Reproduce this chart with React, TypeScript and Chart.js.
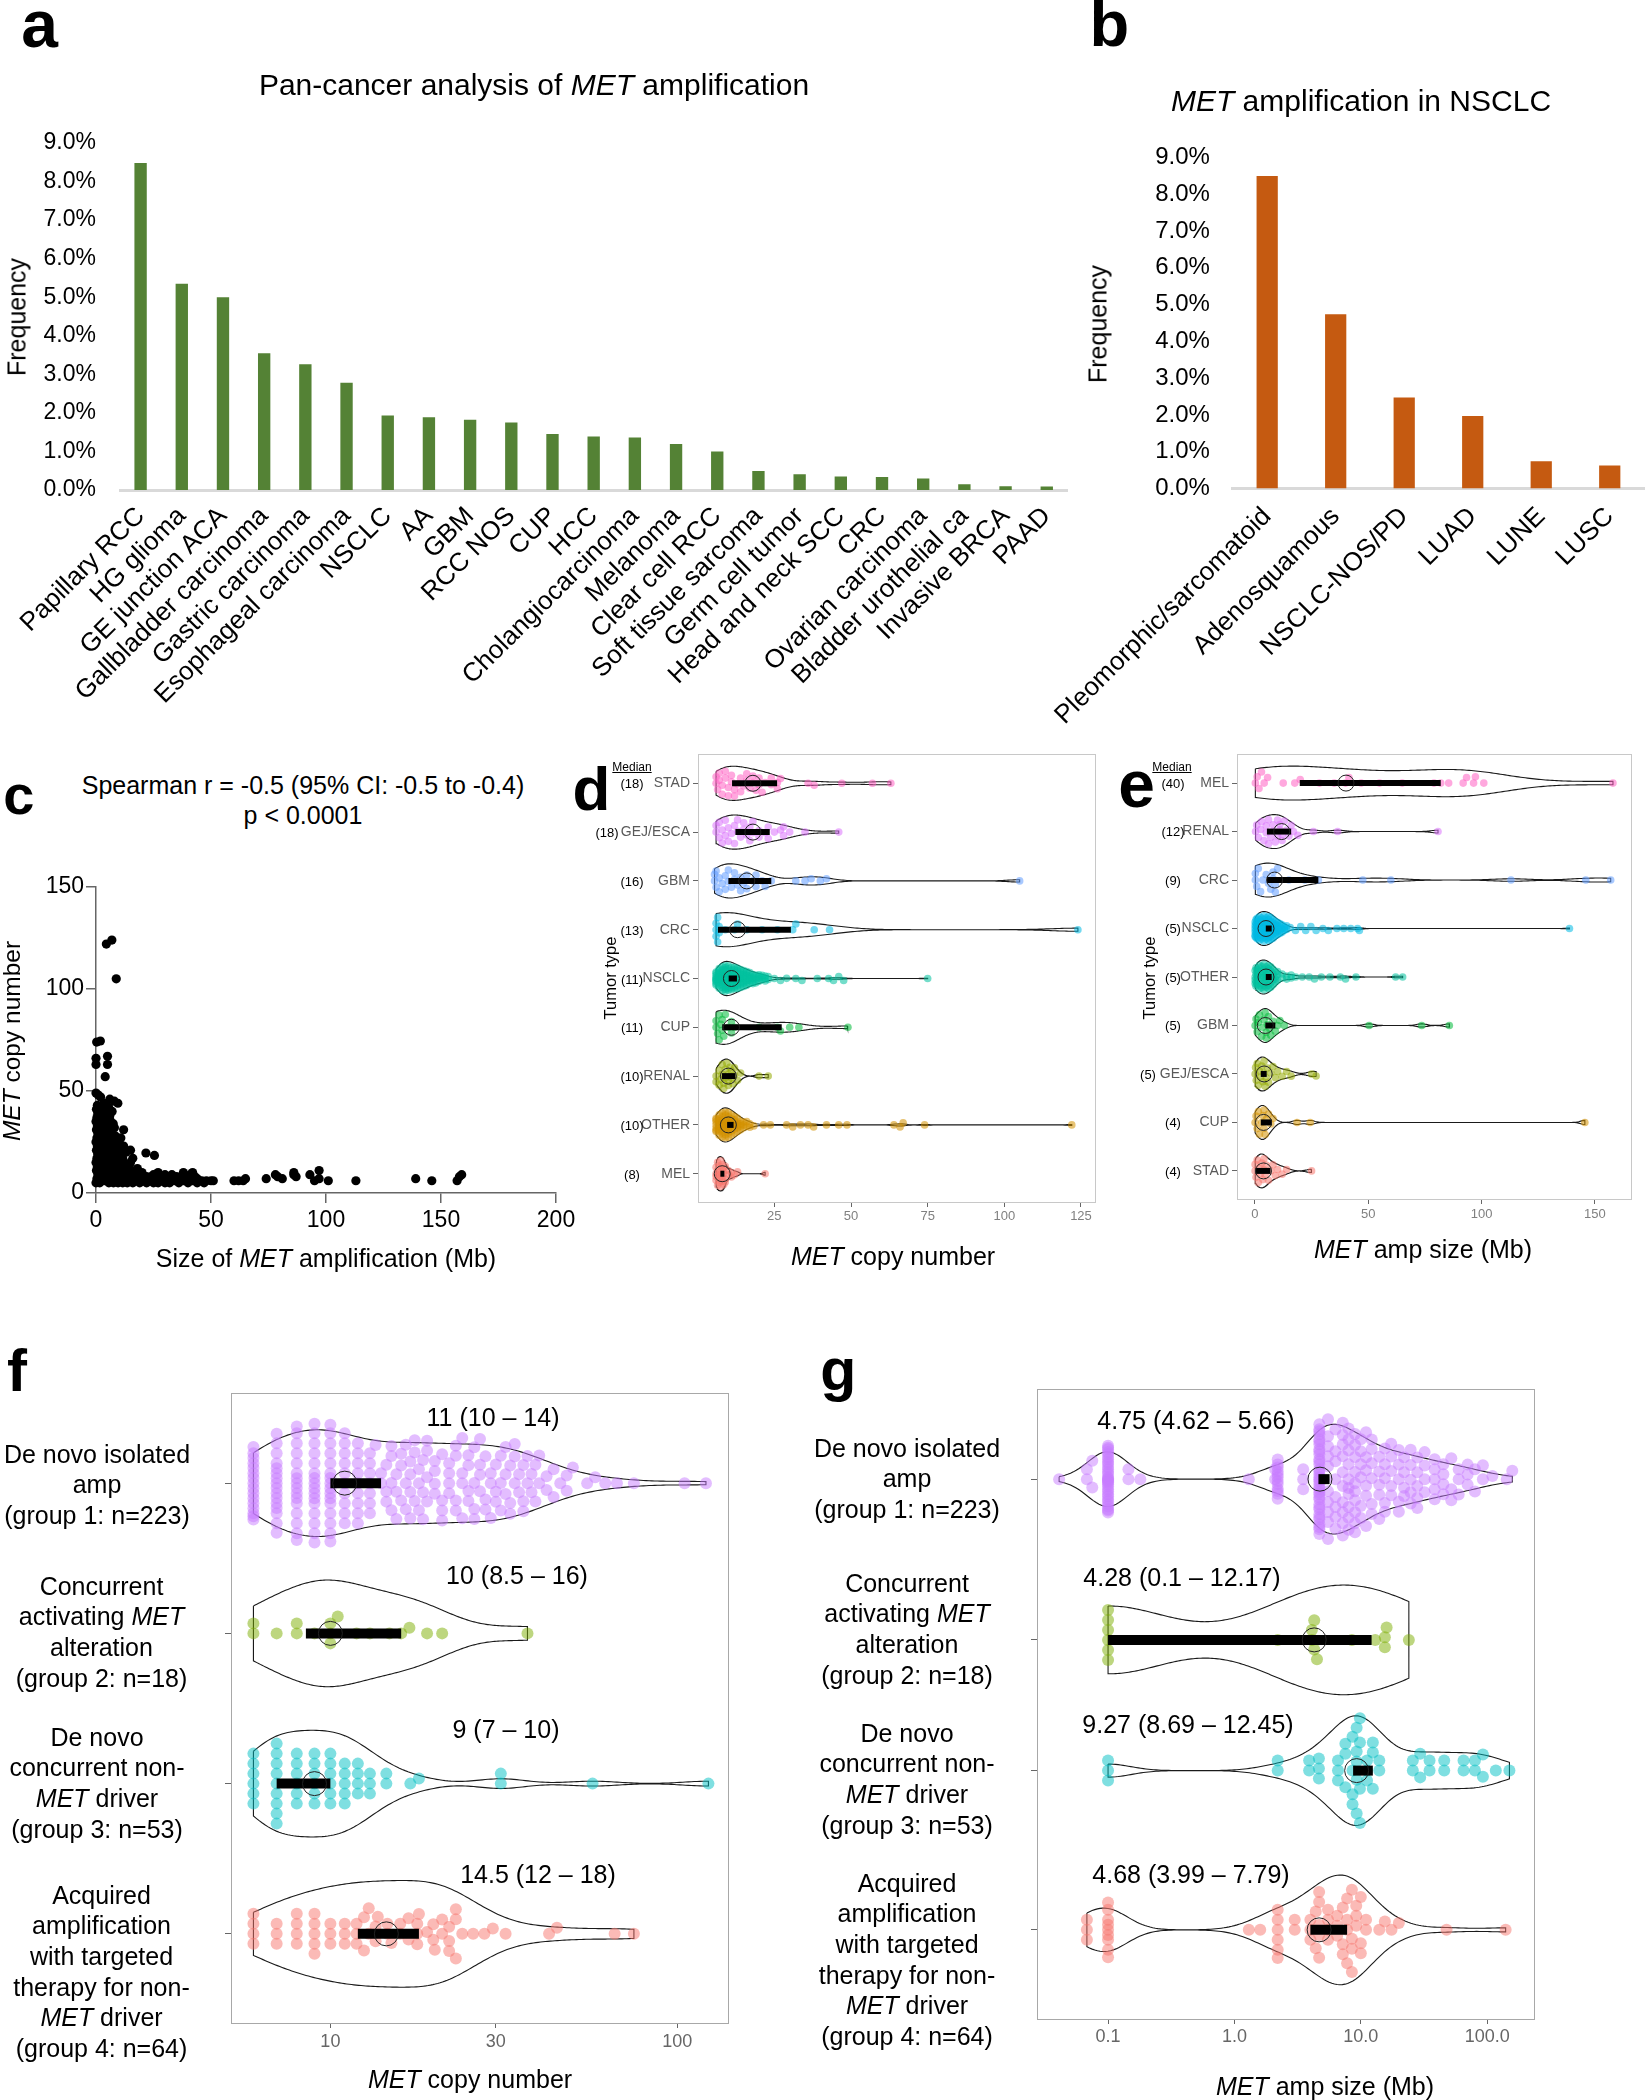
import React, { useEffect, useRef } from 'react';
import { Chart, registerables } from 'chart.js';

Chart.register(...registerables);

const FONT = "'Liberation Sans', Arial, Helvetica, sans-serif";
Chart.defaults.font.family = FONT;
Chart.defaults.color = '#000';

// ================= DATA =================
// Panel a
const aCategories = ['Papillary RCC', 'HG glioma', 'GE junction ACA', 'Gallbladder carcinoma', 'Gastric carcinoma',
  'Esophageal carcinoma', 'NSCLC', 'AA', 'GBM', 'RCC NOS', 'CUP', 'HCC', 'Cholangiocarcinoma', 'Melanoma',
  'Clear cell RCC', 'Soft tissue sarcoma', 'Germ cell tumor', 'Head and neck SCC', 'CRC', 'Ovarian carcinoma',
  'Bladder urothelial ca', 'Invasive BRCA', 'PAAD'];
const aFrequency = [8.48, 5.35, 5.0, 3.55, 3.26, 2.78, 1.93, 1.89, 1.82, 1.75, 1.45, 1.39, 1.36, 1.19, 1.0,
  0.49, 0.41, 0.35, 0.34, 0.30, 0.15, 0.10, 0.09];
// Panel b
const bCategories = ['Pleomorphic/sarcomatoid', 'Adenosquamous', 'NSCLC-NOS/PD', 'LUAD', 'LUNE', 'LUSC'];
const bFrequency = [8.5, 4.74, 2.47, 1.97, 0.74, 0.62];
const freqTicks = [0, 1, 2, 3, 4, 5, 6, 7, 8, 9];

// Panel c : [size Mb, copy number]
type Pair = [number, number];
const cPairs: Pair[] = [
  [4.5, 122], [6.9, 124], [8.8, 105], [0.3, 74], [1.9, 74.5], [0, 66], [0, 63], [5, 67], [5, 63], [4, 57],
  [0, 49], [1, 48], [2, 47], [6, 46], [8, 45], [9.5, 44], [7, 40], [6, 36], [8, 32], [12, 31], [10, 24], [12, 23],
  [15, 21], [16, 17], [21.7, 19.6], [25.4, 18.4],
  [0, 5], [0.4, 7], [0.8, 9], [0.2, 11], [0.6, 13], [0, 15], [0.4, 17], [0.8, 19], [0.2, 21], [0.6, 23], [0, 25],
  [0.4, 27], [0.8, 29], [0.2, 31], [0.6, 33], [0, 35], [0.4, 37], [0.8, 39], [0.2, 41], [0.6, 43],
  [1.6, 5], [2.2, 7], [2.8, 9], [1.8, 11], [2.4, 13], [3, 15], [1.6, 17], [2.2, 19], [2.8, 21], [1.8, 23], [2.4, 25],
  [3, 27], [1.6, 29], [2.2, 31], [2.8, 33], [1.8, 35], [2.4, 37], [3, 39], [2, 42],
  [3.6, 6], [4.2, 8], [4.8, 10], [3.8, 12], [4.4, 14], [5, 16], [3.6, 18], [4.2, 20], [4.8, 22], [3.8, 24], [4.4, 26],
  [5, 28], [3.6, 30], [4.2, 32], [4.8, 34], [4, 37], [4.6, 40], [3.5, 44],
  [5.6, 5], [6.2, 7], [6.8, 9], [5.8, 11], [6.4, 13], [7, 15], [5.6, 17], [6.2, 19], [6.8, 21], [5.8, 23], [6.4, 25],
  [7, 27], [5.8, 30], [6.4, 33], [6.0, 38], [5.5, 42],
  [7.6, 5], [8.2, 7], [8.8, 9], [7.8, 11], [8.4, 13], [9, 15], [7.6, 17], [8.2, 20], [8.8, 22], [7.8, 25], [8.4, 28], [7.5, 34],
  [9.6, 5], [10.2, 7], [10.8, 9], [9.8, 11], [10.4, 13], [11, 15], [9.6, 18], [10.2, 20], [10.8, 27],
  [11.6, 5], [12.2, 6], [12.8, 8], [11.8, 10], [12.4, 12], [13, 14], [11.6, 17], [13, 20],
  [13.6, 5], [14.2, 7], [14.8, 9], [13.8, 11], [14.4, 13], [15, 15],
  [16, 5], [16.5, 7], [17, 6], [18, 8], [19, 5], [20, 6], [21, 7], [22, 5], [23, 6], [24, 8], [25, 5], [26, 7], [27, 5],
  [28, 6], [30, 5], [31, 8], [32, 5], [34, 6], [35, 8], [36, 5], [38, 6], [40, 5], [42, 6], [44, 5], [47, 5],
  [14, 12], [15, 10], [17, 9], [18, 12], [19, 7], [20, 10], [22, 8], [24, 7], [25, 9], [26, 6], [27, 10], [28, 8],
  [29, 6], [30, 9], [31, 7], [32, 6], [33, 9], [34, 7], [35, 6], [37, 8], [38, 10], [39, 7], [40, 6], [41, 9], [42, 10],
  [43, 8], [44, 7], [45, 6], [46, 6], [48, 6], [50, 6], [51, 6],
  [60, 6], [62, 6], [64, 6], [65, 7], [74, 7], [78, 9], [79, 8], [81, 7], [86, 9], [86, 10], [87, 8], [93, 9], [95, 6],
  [97, 7], [97, 11], [101, 6], [113, 6], [139, 7], [146, 6], [157, 6], [158, 8], [159, 9],
];
const cXTicks = [0, 50, 100, 150, 200];
const cYTicks = [0, 50, 100, 150];

// Panel d : MET copy number by tumor type ([value, count])
const dTypes = ['STAD', 'GEJ/ESCA', 'GBM', 'CRC', 'NSCLC', 'CUP', 'RENAL', 'OTHER', 'MEL'];
const dMedians = [18, 18, 16, 13, 11, 11, 10, 10, 8];
const dQ1 = [11.2, 12.3, 10, 6.6, 10.1, 8, 7.9, 9.6, 7.4];
const dQ3 = [25.9, 23.5, 24, 30.4, 12.8, 27.4, 12.3, 11.7, 8.7];
const dSTAD: Pair[] = [[6, 2], [6.5, 1], [7, 2], [8, 2], [9, 2], [10, 2], [11, 2], [12, 2], [13, 1], [14, 2], [15, 1], [16, 2], [17, 1], [18, 2], [19, 1], [20, 2], [21, 1], [22, 1], [24, 2], [26, 2], [27, 1], [36, 1], [38, 1], [47, 1], [57, 1], [63, 1]];
const dGEJ: Pair[] = [[6, 2], [7, 2], [8, 2], [9, 2], [10, 2], [11, 1], [12, 2], [13, 2], [14, 1], [15, 2], [16, 1], [17, 2], [18, 2], [20, 2], [22, 1], [23, 2], [25, 1], [27, 1], [28, 2], [30, 1], [35, 1], [46, 1]];
const dGBM: Pair[] = [[5.5, 2], [6, 2], [7, 2], [8, 1], [9, 2], [10, 2], [11, 1], [12, 2], [13, 1], [14, 2], [15, 1], [16, 2], [18, 1], [19, 2], [21, 1], [22, 1], [24, 1], [32, 1], [35, 1], [37, 1], [40, 1], [42, 1], [105, 1]];
const dCRC: Pair[] = [[6, 3], [6.5, 2], [7, 2], [9, 1], [12, 1], [13, 1], [16, 1], [21, 1], [26, 1], [31, 1], [32, 1], [38, 1], [43, 1], [124, 1]];
const dNSCLC: Pair[] = [[6, 10], [7, 12], [8, 14], [9, 14], [10, 14], [11, 13], [12, 12], [13, 10], [14, 9], [15, 8], [16, 7], [17, 6], [18, 5], [19, 4], [20, 4], [21, 3], [22, 3], [23, 2], [25, 1], [27, 1], [29, 1], [32, 1], [34, 1], [39, 1], [42.7, 1], [44.3, 1], [46, 1], [47.6, 1], [75, 1]];
const dCUP: Pair[] = [[6, 2], [6.5, 1], [7, 2], [7.5, 1], [8, 2], [8.5, 1], [9, 1], [10, 1], [11, 2], [12, 1], [20, 1], [26, 1], [27, 1], [30, 1], [33, 1], [49, 1]];
const dRENAL: Pair[] = [[6, 2], [7, 2], [7.5, 1], [8, 2], [8.5, 2], [9, 2], [9.5, 1], [10, 3], [10.5, 1], [11, 2], [11.5, 1], [12, 2], [13, 1], [14, 1], [20, 1], [23, 1]];
const dOTHER: Pair[] = [[6, 7], [7, 9], [8, 10], [9, 10], [10, 10], [11, 8], [12, 7], [13, 5], [14, 4], [15, 3], [16, 2], [17, 2], [18.3, 1], [21.5, 1], [23.7, 1], [29, 1], [31, 1], [33.5, 1], [36, 1], [37.8, 1], [42, 1], [46, 1], [48.7, 1], [64, 1], [66, 1], [67, 1], [74, 1], [122, 1]];
const dMEL: Pair[] = [[6, 4], [6.5, 3], [7, 4], [7.5, 3], [8, 4], [8.5, 3], [9, 3], [10, 2], [11, 2], [12, 1], [13, 1], [22, 1]];
const dXTicks = [25, 50, 75, 100, 125];

// Panel e : MET amp size (Mb) by tumor type
const eTypes = ['MEL', 'RENAL', 'CRC', 'NSCLC', 'OTHER', 'GBM', 'GEJ/ESCA', 'CUP', 'STAD'];
const eMedianLabels = [40, 12, 9, 5, 5, 5, 5, 4, 4];
const eMedians = [40.2, 11.8, 8.7, 4.9, 4.9, 4.6, 4.1, 3.8, 3.8];
const eQ1 = [19.8, 5.3, 5.3, 4.8, 4.8, 4.6, 2.6, 2.6, 0.3];
const eQ3 = [82, 16, 28, 7.4, 7.4, 9, 5.2, 7.5, 6.9];
const eMEL: Pair[] = [[0.2, 1], [1, 1], [1.8, 1], [2.9, 1], [4.1, 1], [5.6, 1], [12.5, 1], [17.6, 1], [20, 1], [28.5, 1], [35, 1], [40, 1], [41.5, 1], [46.9, 1], [55, 1], [65, 1], [79, 1], [82, 1], [85.5, 1], [91.9, 1], [93.4, 1], [96.5, 1], [97.3, 1], [101, 1], [158, 1]];
const eRENAL: Pair[] = [[0.3, 1], [0.8, 1], [1.5, 1], [2.5, 1], [3, 1], [4, 1], [5, 2], [6, 2], [7, 1], [8, 2], [9, 1], [10, 2], [11, 2], [12, 2], [13, 1], [14, 1], [15, 1], [16, 1], [17, 1], [19, 1], [25.8, 1], [36.5, 1], [80.8, 1]];
const eCRC: Pair[] = [[0.2, 2], [0.8, 1], [1.5, 1], [2.5, 1], [3.5, 1], [5, 1], [6, 1], [7, 1], [8, 2], [9, 2], [10, 1], [15, 1], [22, 1], [28, 1], [47.6, 1], [60, 1], [113, 1], [146, 1], [157, 1]];
const eNSCLC: Pair[] = [[0.1, 6], [0.5, 6], [1, 7], [2, 8], [3, 9], [4, 10], [5, 10], [6, 9], [7, 8], [8, 7], [9, 6], [10, 5], [11, 4], [12, 3], [13, 3], [14, 2], [15.6, 1], [17.9, 1], [20.2, 1], [22.4, 1], [24.7, 1], [27, 1], [30, 1], [32.4, 1], [36.2, 1], [39.2, 1], [42.3, 1], [45.3, 1], [46.1, 1], [138.8, 1]];
const eOTHER: Pair[] = [[0.1, 4], [0.5, 4], [1, 5], [2, 6], [3, 6], [4, 7], [5, 7], [6, 6], [7, 5], [8, 4], [9, 4], [10, 3], [12, 2], [14, 2], [16, 2], [18, 1], [20.9, 1], [24, 1], [26.3, 1], [29.3, 1], [33.1, 1], [37.7, 1], [40, 1], [44.6, 1], [62.1, 1], [65.2, 1]];
const eGBM: Pair[] = [[0.1, 1], [0.5, 1], [1, 1], [1.5, 1], [2, 1], [3, 1], [3.5, 1], [4, 1], [4.5, 1], [5, 2], [5.5, 1], [6, 1], [6.5, 1], [7, 1], [8, 1], [9, 1], [10, 1], [11, 1], [13, 1], [50.4, 1], [73.6, 1], [85.8, 1]];
const eGEJ: Pair[] = [[0.1, 1], [0.3, 1], [0.6, 1], [1, 1], [1.5, 1], [2, 1], [2.5, 1], [3, 1], [3.5, 1], [4, 2], [4.5, 1], [5, 1], [5.5, 1], [6, 1], [7, 1], [8, 1], [9, 1], [10, 1], [12, 1], [14, 1], [16, 1], [25, 1], [27, 1]];
const eCUP: Pair[] = [[0.1, 1], [0.5, 1], [1, 1], [1.5, 1], [2, 1], [3, 1], [3.5, 1], [4, 2], [4.5, 1], [5, 1], [6, 1], [7, 1], [8, 1], [18.6, 1], [24.4, 1], [145.6, 1]];
const eSTAD: Pair[] = [[0.1, 2], [0.5, 1], [1, 1], [1.5, 1], [2, 1], [2.5, 1], [3, 1], [3.5, 1], [4, 2], [4.5, 1], [5, 1], [6, 1], [7, 1], [8, 1], [9, 1], [10, 1], [12, 1], [14, 1], [25, 1]];
const eXTicks = [0, 50, 100, 150];

// Panel f : MET copy number by group
const fMedians = [11, 10, 9, 14.5];
const fQ1 = [10, 8.5, 7, 12];
const fQ3 = [14, 16, 10, 18];
const fG1: Pair[] = [[6, 16], [7, 16], [8, 16], [9, 16], [10, 16], [11, 10], [12, 9], [13, 7],
  [13.5, 1], [14, 2], [14.5, 3], [15, 4], [15.5, 3], [16, 3], [16.5, 3], [17, 4], [17.5, 3], [18, 3], [18.5, 3], [19, 4],
  [20, 4], [21, 4], [22, 4], [23, 4], [24, 4], [25, 4], [26, 4], [27, 4], [28, 3], [29, 3], [30, 3], [31, 3], [32, 3],
  [33, 3], [34, 3], [35, 2], [36, 3], [37, 2], [38, 2], [39, 2], [40, 2], [42, 2], [44, 2], [46, 1], [48, 2], [50, 1],
  [55, 1], [58, 1], [62, 1], [67, 1], [75, 1], [105, 1], [121, 1]];
const fG2: Pair[] = [[6, 2], [7, 1], [8, 2], [9, 1], [10, 3], [10.5, 1], [11.9, 1], [13, 1], [14.8, 1], [16, 1], [16.9, 1], [19, 1], [21, 1], [37, 1]];
const fG3: Pair[] = [[6, 6], [7, 9], [8, 6], [9, 6], [10, 6], [11, 5], [12, 4], [13, 3], [14.5, 2], [17, 1], [18, 1], [31, 2], [57, 1], [123, 1]];
const fG4: Pair[] = [[6, 4], [7, 3], [8, 4], [9, 5], [10, 3], [11, 3], [11.9, 3], [12.5, 2], [12.9, 2], [13.5, 2], [13.7, 1], [14.6, 2], [15, 1], [15.9, 2], [16.8, 2], [17.8, 3], [18, 1], [19, 1], [19.8, 2], [20, 1], [21, 2], [22, 3], [23, 3], [24, 1], [25.8, 1], [27.8, 1], [29.4, 1], [32, 1], [42.7, 1], [45, 1], [66, 1], [75, 1]];
const fXTicks = [10, 30, 100];
const fXTickText = ['10', '30', '100'];

// Panel g : MET amp size (Mb) by group
const gMedians = [4.75, 4.28, 9.27, 4.68];
const gQ1 = [4.62, 0.1, 8.69, 3.99];
const gQ3 = [5.66, 12.17, 12.45, 7.79];
const gG1: Pair[] = [[0.041, 1], [0.068, 2], [0.075, 2], [0.1, 32], [0.145, 2], [0.18, 1], [1.3, 1], [2.1, 2], [2.2, 12], [3.5, 3],
  [4.7, 36], [5.5, 10], [6.3, 8], [7.2, 10], [8, 10], [9, 10], [10, 6], [11, 6], [12.2, 6], [14, 5], [15.5, 5], [17.4, 5],
  [20, 5], [22, 4], [24.8, 5], [28, 5], [32, 4], [38.4, 5], [45, 4], [52, 3], [59.5, 3], [70, 3], [80, 2], [92.5, 2],
  [110, 1], [143, 1], [158, 1]];
const gG2: Pair[] = [[0.1, 6], [2.2, 1], [4.1, 2], [4.28, 2], [4.5, 1], [8.5, 1], [13, 1], [15.5, 2], [16, 1], [24, 1]];
const gG3: Pair[] = [[0.1, 3], [2.2, 2], [3.9, 2], [4.66, 3], [6.6, 3], [7.55, 3], [8.6, 4], [9.27, 5], [9.84, 4], [11.2, 3], [12.45, 3], [14, 2], [25.8, 2], [29.5, 2], [35, 2], [45.7, 2], [65, 2], [80, 2], [92.5, 2], [117, 1], [150, 1]];
const gG4: Pair[] = [[0.068, 3], [0.1, 9], [1.3, 1], [1.6, 1], [2.2, 6], [3, 2], [3.99, 3], [4.4, 2], [4.68, 5], [5.5, 4], [6.5, 3], [7.2, 3], [7.79, 4], [8.5, 4], [9.2, 3], [10, 3], [11, 2], [14, 1], [15.5, 1], [17.5, 1], [20, 1], [47.7, 1], [140, 1]];
const gXTicks = [0.1, 1, 10, 100];
const gXTickText = ['0.1', '1.0', '10.0', '100.0'];

const groupLines = [
  ['De novo isolated', 'amp', '(group 1: n=223)'],
  ['Concurrent', 'activating *MET*', 'alteration', '(group 2: n=18)'],
  ['De novo', 'concurrent non-', '*MET* driver', '(group 3: n=53)'],
  ['Acquired', 'amplification', 'with targeted', 'therapy for non-', '*MET* driver', '(group 4: n=64)'],
];

// ================= STYLE / LAYOUT =================
const HUE9 = ['#FF61C3', '#DB72FB', '#619CFF', '#00B9E3', '#00C19F', '#00BA38', '#93AA00', '#D39200', '#F8766D'];
const HUE4 = ['#C77CFF', '#7CAE00', '#00BFC4', '#F8766D'];

interface Box { cl: number; ct: number; cw: number; ch: number; l: number; t: number; r: number; b: number; }
const yw = (b: Box) => b.l - b.cl;
const xh = (b: Box) => b.ct + b.ch - b.b;
const pad = (b: Box) => ({ left: 0, top: b.t - b.ct, right: b.cl + b.cw - b.r, bottom: 0 });

const aBox: Box = { cl: -60, ct: 100, cw: 1140, ch: 620, l: 120, t: 143, r: 1072, b: 490 };
const bBox: Box = { cl: 1030, ct: 110, cw: 615, ch: 640, l: 1231, t: 157.6, r: 1644, b: 488.4 };
const cBox: Box = { cl: 0, ct: 860, cw: 600, ch: 410, l: 96, t: 887, r: 556, b: 1193 };
const dBox: Box = { cl: 590, ct: 740, cw: 520, ch: 500, l: 698, t: 754, r: 1096, b: 1203 };
const eBox: Box = { cl: 1110, ct: 740, cw: 535, ch: 500, l: 1237, t: 754, r: 1632, b: 1200 };
const fBox: Box = { cl: 190, ct: 1380, cw: 560, ch: 700, l: 231, t: 1393, r: 729, b: 2024 };
const gBox: Box = { cl: 1000, ct: 1375, cw: 645, ch: 705, l: 1037, t: 1389, r: 1535, b: 2020 };
// panel g rows are not evenly spaced in the original (stacked sub-panels)
const gRowPos = [0, 1.07, 1.94, 3.0];

const expand = (pairs: Pair[]) => {
  const out: number[] = [];
  pairs.forEach(([v, c]) => { for (let k = 0; k < c; k++) out.push(v); });
  return out;
};
const rgba = (hex: string, a: number) => {
  const n = parseInt(hex.slice(1), 16);
  return `rgba(${(n >> 16) & 255},${(n >> 8) & 255},${n & 255},${a})`;
};

const framePlugin = (color: string) => ({
  id: 'frame',
  afterDatasetsDraw(chart: any) {
    const { ctx, chartArea: a } = chart;
    ctx.save();
    ctx.strokeStyle = color;
    ctx.lineWidth = 1;
    ctx.strokeRect(Math.round(a.left) + 0.5, Math.round(a.top) + 0.5, Math.round(a.right - a.left) - 1, Math.round(a.bottom - a.top) - 1);
    ctx.restore();
  },
});

// ================= BAR CHARTS =================
function buildBar(canvas: HTMLCanvasElement, box: Box, labels: string[], values: number[], color: string,
  o: { barPct: number; xFont: number; yFont: number; xPad: number; yPad: number }) {
  return new Chart(canvas, {
    type: 'bar',
    data: { labels, datasets: [{ data: values, backgroundColor: color, barPercentage: o.barPct, categoryPercentage: 1 }] },
    options: {
      animation: false, responsive: false, maintainAspectRatio: false, events: [],
      layout: { padding: pad(box) },
      plugins: { legend: { display: false }, tooltip: { enabled: false } },
      scales: {
        x: {
          grid: { display: false, drawTicks: false },
          border: { display: true, color: '#d9d9d9', width: 3 },
          ticks: { autoSkip: false, minRotation: 45, maxRotation: 45, color: '#000', font: { size: o.xFont }, padding: o.xPad },
          afterFit: (s: any) => { s.height = xh(box); },
        },
        y: {
          min: 0, max: 9,
          grid: { display: false, drawTicks: false },
          border: { display: false },
          afterBuildTicks: (s: any) => { s.ticks = freqTicks.map((v) => ({ value: v })); },
          ticks: { color: '#000', font: { size: o.yFont }, padding: o.yPad, callback: (v: any) => Number(v).toFixed(1) + '%' },
          afterFit: (s: any) => { s.width = yw(box); },
        },
      },
    } as any,
  });
}

// ================= SCATTER (c) =================
function buildScatter(canvas: HTMLCanvasElement) {
  const box = cBox;
  const axisGrid = { drawOnChartArea: false, drawTicks: true, tickLength: 10, color: '#666', lineWidth: 1.5 };
  return new Chart(canvas, {
    type: 'scatter',
    data: { datasets: [{ data: cPairs.map(([x, y]) => ({ x, y })), pointRadius: 4.6, pointBackgroundColor: '#000', pointBorderWidth: 0, clip: false } as any] },
    options: {
      animation: false, responsive: false, maintainAspectRatio: false, events: [],
      layout: { padding: pad(box) },
      plugins: { legend: { display: false }, tooltip: { enabled: false } },
      scales: {
        x: {
          type: 'linear', min: 0, max: 200,
          afterBuildTicks: (s: any) => { s.ticks = cXTicks.map((v) => ({ value: v })); },
          ticks: { color: '#000', font: { size: 23 }, padding: 4 },
          grid: axisGrid, border: { display: true, color: '#666', width: 1.5 },
          afterFit: (s: any) => { s.height = xh(box); },
        },
        y: {
          type: 'linear', min: 0, max: 150,
          afterBuildTicks: (s: any) => { s.ticks = cYTicks.map((v) => ({ value: v })); },
          ticks: { color: '#000', font: { size: 23 }, padding: 2 },
          grid: axisGrid, border: { display: true, color: '#666', width: 1.5 },
          afterFit: (s: any) => { s.width = yw(box); },
        },
      },
    } as any,
  });
}

// ================= VIOLIN CHARTS =================
interface VGroup { values: number[]; color: string; median: number; q1: number; q3: number; }
interface VSpec {
  box: Box; groups: VGroup[]; rowPos: number[] | null; log: boolean; xMin: number; xMax: number; xTicks: number[]; xTickText: string[];
  yLabels: string[] | null; halfWidth: number; bwFloor: number; pointR: number; alpha: number; circleR: number;
  barW: number; xFont: number; xColor: string; xPad: number; yFont: number; yColor: string; yPad: number;
  yTickLen: number; frame: string; swarmD: number; capScale: number; capExtra: number; capMax: number;
}

function kde(values: number[], log: boolean, bwFloor: number, halfWidth: number) {
  const t = values.map((v) => (log ? Math.log10(v) : v)).sort((a, b) => a - b);
  const n = t.length;
  const mean = t.reduce((s, v) => s + v, 0) / n;
  const sd = Math.sqrt(t.reduce((s, v) => s + (v - mean) * (v - mean), 0) / Math.max(1, n - 1));
  const q = (p: number) => { const h = (n - 1) * p; const lo = Math.floor(h); return t[lo] + (h - lo) * (t[Math.min(lo + 1, n - 1)] - t[lo]); };
  const iqr = q(0.75) - q(0.25);
  let s = Math.min(sd, iqr / 1.34);
  if (!(s > 0)) s = sd > 0 ? sd : 1;
  const bw = Math.max(0.9 * s * Math.pow(n, -0.2), bwFloor);
  const lo = t[0], hi = t[n - 1], m = 160;
  const u: number[] = [], d: number[] = [];
  for (let j = 0; j < m; j++) {
    const x = lo + ((hi - lo) * j) / (m - 1);
    let acc = 0;
    for (const ti of t) { const z = (x - ti) / bw; acc += Math.exp(-0.5 * z * z); }
    u.push(x); d.push(acc);
  }
  const mx = Math.max(...d);
  return { u, w: d.map((v) => (v / mx) * halfWidth) };
}
function hwAt(k: { u: number[]; w: number[] }, x: number) {
  const { u, w } = k;
  if (x <= u[0]) return w[0];
  if (x >= u[u.length - 1]) return w[w.length - 1];
  const f = ((x - u[0]) / (u[u.length - 1] - u[0])) * (u.length - 1);
  const i = Math.floor(f);
  return w[i] + (f - i) * (w[Math.min(i + 1, w.length - 1)] - w[i]);
}

function buildViolin(canvas: HTMLCanvasElement, spec: VSpec) {
  const { box, groups } = spec;
  const pos = (gi: number) => (spec.rowPos ? spec.rowPos[gi] : gi);
  const tf = (v: number) => (spec.log ? Math.log10(v) : v);
  const inv = (u: number) => (spec.log ? Math.pow(10, u) : u);
  const kdes = groups.map((g) => kde(g.values, spec.log, spec.bwFloor, spec.halfWidth));
  const datasets: any[] = [];
  const pointIdx: number[] = [];
  groups.forEach((g, gi) => {
    const k = kdes[gi];
    const p = pos(gi);
    const outline: { x: number; y: number }[] = [];
    for (let j = 0; j < k.u.length; j++) outline.push({ x: inv(k.u[j]), y: p - k.w[j] });
    for (let j = k.u.length - 1; j >= 0; j--) outline.push({ x: inv(k.u[j]), y: p + k.w[j] });
    outline.push({ ...outline[0] });
    datasets.push({ type: 'scatter', data: outline, showLine: true, borderColor: '#1a1a1a', borderWidth: 1.1, pointRadius: 0, fill: false, order: 4 });
    pointIdx.push(datasets.length);
    datasets.push({ type: 'scatter', data: g.values.map((v) => ({ x: v, y: p })), pointRadius: spec.pointR, backgroundColor: rgba(g.color, spec.alpha), pointBackgroundColor: rgba(g.color, spec.alpha), pointBorderWidth: 0, borderWidth: 0, order: 3 });
    datasets.push({ type: 'scatter', data: [{ x: g.q1, y: p }, { x: g.q3, y: p }], showLine: true, borderColor: '#000', borderWidth: spec.barW, borderCapStyle: 'butt', pointRadius: 0, order: 2 });
    datasets.push({ type: 'scatter', data: [{ x: g.median, y: p }], pointRadius: spec.circleR, pointBackgroundColor: 'rgba(0,0,0,0)', pointBorderColor: '#222', pointBorderWidth: 1, order: 1 });
  });
  const chart = new Chart(canvas, {
    type: 'scatter',
    data: { datasets },
    options: {
      animation: false, responsive: false, maintainAspectRatio: false, events: [],
      layout: { padding: pad(box) },
      plugins: { legend: { display: false }, tooltip: { enabled: false } },
      scales: {
        x: {
          type: spec.log ? 'logarithmic' : 'linear', min: spec.xMin, max: spec.xMax, position: 'bottom',
          afterBuildTicks: (s: any) => { s.ticks = spec.xTicks.map((v) => ({ value: v })); },
          ticks: { autoSkip: false, maxRotation: 0, color: spec.xColor, font: { size: spec.xFont }, padding: spec.xPad, callback: (_v: any, i: number) => spec.xTickText[i] },
          grid: { drawOnChartArea: false, drawTicks: true, tickLength: 4, color: '#666', lineWidth: 1 },
          border: { display: false },
          afterFit: (s: any) => { s.height = xh(box); },
        },
        y: {
          type: 'linear', min: -0.6, max: groups.length - 0.4, reverse: true,
          afterBuildTicks: (s: any) => { s.ticks = groups.map((_g, i) => ({ value: pos(i) })); },
          ticks: { display: !!spec.yLabels, color: spec.yColor, font: { size: spec.yFont }, padding: spec.yPad, callback: (_v: any, i: number) => (spec.yLabels ? spec.yLabels[i] : '') },
          grid: { drawOnChartArea: false, drawTicks: true, tickLength: spec.yTickLen, color: '#666', lineWidth: 1 },
          border: { display: false },
          afterFit: (s: any) => { s.width = yw(box); },
        },
      },
    } as any,
    plugins: [framePlugin(spec.frame)],
  });

  // swarm layout of the points, computed in pixel space from the chart's own scales
  const xs: any = chart.scales.x, ys: any = chart.scales.y;
  const unit = Math.abs(ys.getPixelForValue(1) - ys.getPixelForValue(0));
  const D = spec.swarmD;
  groups.forEach((g, gi) => {
    const px = g.values.map((v) => xs.getPixelForValue(v));
    const idx = px.map((_p, i) => i).sort((a, b) => px[a] - px[b]);
    const placed: { x: number; y: number }[] = [];
    const off = new Array(px.length).fill(0);
    for (const i of idx) {
      const x = px[i];
      const hw = hwAt(kdes[gi], tf(g.values[i])) * unit;
      const cap = Math.max(2, Math.min(spec.capMax, hw * spec.capScale + spec.capExtra));
      const near = placed.filter((p) => Math.abs(p.x - x) < D);
      const iv = near.map((p) => { const h = Math.sqrt(D * D - (p.x - x) * (p.x - x)); return [p.y - h, p.y + h]; });
      const free = (y: number) => iv.every(([a, b]) => y <= a + 1e-6 || y >= b - 1e-6);
      const cands = [0, ...iv.flat()].sort((a, b) => Math.abs(a) - Math.abs(b));
      let y = NaN;
      for (const c of cands) { if (Math.abs(c) <= cap + 1e-6 && free(c)) { y = c; break; } }
      if (isNaN(y)) {
        const steps = Math.max(2, Math.round(cap));
        let best = 0, bestScore = -Infinity;
        for (let s = 0; s <= 2 * steps; s++) {
          const mag = Math.ceil(s / 2) * (cap / steps);
          const c = s % 2 === 1 ? mag : -mag;
          let mind = Infinity;
          for (const p of near) { const dd = Math.hypot(p.x - x, p.y - c); if (dd < mind) mind = dd; }
          if (mind > bestScore + 1e-9) { bestScore = mind; best = c; }
        }
        y = best;
      }
      placed.push({ x, y });
      off[i] = y;
    }
    chart.data.datasets[pointIdx[gi]].data = g.values.map((v, i) => ({ x: v, y: pos(gi) + off[i] / unit })) as any;
  });
  chart.update('none');
  return chart;
}

const dSpec = (): VSpec => ({
  box: dBox, rowPos: null,
  groups: [dSTAD, dGEJ, dGBM, dCRC, dNSCLC, dCUP, dRENAL, dOTHER, dMEL].map((p, i) => ({ values: expand(p), color: HUE9[i], median: dMedians[i], q1: dQ1[i], q3: dQ3[i] })),
  log: false, xMin: 0.1, xMax: 129.9, xTicks: dXTicks, xTickText: dXTicks.map(String), yLabels: dTypes,
  halfWidth: 0.35, bwFloor: 0, pointR: 3.8, alpha: 0.55, circleR: 8, barW: 6,
  xFont: 13, xColor: '#808080', xPad: 2, yFont: 14, yColor: '#595959', yPad: 3, yTickLen: 5, frame: '#c8c8c8',
  swarmD: 6.5, capScale: 0.75, capExtra: 0, capMax: 14,
});
const eSpec = (): VSpec => ({
  box: eBox, rowPos: null,
  groups: [eMEL, eRENAL, eCRC, eNSCLC, eOTHER, eGBM, eGEJ, eCUP, eSTAD].map((p, i) => ({ values: expand(p), color: HUE9[i], median: eMedians[i], q1: eQ1[i], q3: eQ3[i] })),
  log: false, xMin: -7.9, xMax: 166.4, xTicks: eXTicks, xTickText: eXTicks.map(String), yLabels: eTypes,
  halfWidth: 0.35, bwFloor: 0, pointR: 3.8, alpha: 0.55, circleR: 8, barW: 6,
  xFont: 13, xColor: '#808080', xPad: 3, yFont: 14, yColor: '#595959', yPad: 3, yTickLen: 5, frame: '#c8c8c8',
  swarmD: 6.5, capScale: 0.75, capExtra: 0, capMax: 14,
});
const fSpec = (): VSpec => ({
  box: fBox, rowPos: null,
  groups: [fG1, fG2, fG3, fG4].map((p, i) => ({ values: expand(p), color: HUE4[i], median: fMedians[i], q1: fQ1[i], q3: fQ3[i] })),
  log: true, xMin: 5.17, xMax: 141, xTicks: fXTicks, xTickText: fXTickText, yLabels: null,
  halfWidth: 0.355, bwFloor: 0.07, pointR: 6, alpha: 0.5, circleR: 12, barW: 10,
  xFont: 18, xColor: '#666', xPad: 3, yFont: 14, yColor: '#666', yPad: 3, yTickLen: 6, frame: '#a8a8a8',
  swarmD: 10, capScale: 1, capExtra: 6, capMax: 70,
});
const gSpec = (): VSpec => ({
  box: gBox, rowPos: gRowPos,
  groups: [gG1, gG2, gG3, gG4].map((p, i) => ({ values: expand(p), color: HUE4[i], median: gMedians[i], q1: gQ1[i], q3: gQ3[i] })),
  log: true, xMin: 0.0274, xMax: 239, xTicks: gXTicks, xTickText: gXTickText, yLabels: null,
  halfWidth: 0.365, bwFloor: 0.15, pointR: 6, alpha: 0.5, circleR: 12, barW: 10,
  xFont: 18, xColor: '#666', xPad: 2, yFont: 14, yColor: '#666', yPad: 3, yTickLen: 6, frame: '#a8a8a8',
  swarmD: 10, capScale: 1, capExtra: 6, capMax: 70,
});

// ================= REACT =================
function ChartCanvas({ box, build }: { box: Box; build: (c: HTMLCanvasElement) => Chart }) {
  const ref = useRef<HTMLCanvasElement>(null);
  useEffect(() => {
    const chart = build(ref.current as HTMLCanvasElement);
    return () => chart.destroy();
  }, []);
  return <canvas ref={ref} width={box.cw} height={box.ch} style={{ position: 'absolute', left: box.cl, top: box.ct, width: box.cw, height: box.ch }} />;
}

function rich(s: string) {
  return s.split('*').map((part, i) => (i % 2 === 1 ? <i key={i}>{part}</i> : <span key={i}>{part}</span>));
}

function Txt({ x, y, size, children, rotate, color, underline }: any) {
  return (
    <div style={{
      position: 'absolute', left: x, top: y, fontFamily: FONT, fontSize: size, lineHeight: 1, whiteSpace: 'nowrap',
      color: color || '#000', transform: `translate(-50%, -50%)${rotate ? ` rotate(${rotate}deg)` : ''}`,
      textDecoration: underline ? 'underline' : 'none',
    }}>{children}</div>
  );
}

function Letter({ ch, inkLeft, baseline, size }: { ch: string; inkLeft: number; baseline: number; size: number }) {
  return (
    <div style={{ position: 'absolute', left: inkLeft - 0.04 * size, top: baseline - 0.8465 * size, fontFamily: FONT, fontWeight: 700, fontSize: size, lineHeight: 1 }}>{ch}</div>
  );
}

function Block({ x, y0, lines, size, lh }: { x: number; y0: number; lines: string[]; size: number; lh: number }) {
  return (
    <div style={{ position: 'absolute', left: x, top: y0 - lh / 2, transform: 'translateX(-50%)', textAlign: 'center', fontFamily: FONT, fontSize: size, lineHeight: `${lh}px`, whiteSpace: 'nowrap' }}>
      {lines.map((l, i) => <div key={i}>{rich(l)}</div>)}
    </div>
  );
}

const fBlocks = [{ x: 97, y0: 1454 }, { x: 101.5, y0: 1586 }, { x: 97, y0: 1737 }, { x: 101.5, y0: 1895 }];
const gBlocks = [{ x: 907, y0: 1448 }, { x: 907, y0: 1583 }, { x: 907, y0: 1733 }, { x: 907, y0: 1883 }];
const fNotes = [{ x: 493, y: 1417 }, { x: 517, y: 1575 }, { x: 506, y: 1729 }, { x: 538, y: 1874 }];
const gNotes = [{ x: 1196, y: 1420 }, { x: 1182, y: 1577 }, { x: 1188, y: 1724 }, { x: 1191, y: 1874 }];
const note = (m: number, a: number, b: number) => `${m} (${a} \u2013 ${b})`;

export default function App() {
  useEffect(() => {
    document.documentElement.style.overflow = 'hidden';
    document.body.style.overflow = 'hidden';
  }, []);
  return (
    <div style={{ position: 'absolute', left: 0, top: 0, width: 1645, height: 2100, overflow: 'hidden', background: '#fff' }}>
      <ChartCanvas box={aBox} build={(c) => buildBar(c, aBox, aCategories, aFrequency, '#548235', { barPct: 0.3, xFont: 26, yFont: 23, xPad: 11, yPad: 24 })} />
      <ChartCanvas box={bBox} build={(c) => buildBar(c, bBox, bCategories, bFrequency, '#C55A11', { barPct: 0.31, xFont: 26, yFont: 24, xPad: 13, yPad: 23 })} />
      <ChartCanvas box={cBox} build={buildScatter} />
      <ChartCanvas box={dBox} build={(c) => buildViolin(c, dSpec())} />
      <ChartCanvas box={eBox} build={(c) => buildViolin(c, eSpec())} />
      <ChartCanvas box={fBox} build={(c) => buildViolin(c, fSpec())} />
      <ChartCanvas box={gBox} build={(c) => buildViolin(c, gSpec())} />

      {/* panel a */}
      <Letter ch="a" inkLeft={24} baseline={46.5} size={66} />
      <Txt x={534} y={85} size={30}>Pan-cancer analysis of <i>MET</i> amplification</Txt>
      <Txt x={17} y={317} size={25} rotate={-90}>Frequency</Txt>
      {/* panel b */}
      <Letter ch="b" inkLeft={1092} baseline={46.3} size={65} />
      <Txt x={1361} y={101} size={30}><i>MET</i> amplification in NSCLC</Txt>
      <Txt x={1098} y={324} size={25} rotate={-90}>Frequency</Txt>
      {/* panel c */}
      <Letter ch="c" inkLeft={5.5} baseline={814.5} size={56} />
      <Txt x={303} y={785} size={25}>Spearman r = -0.5 (95% CI: -0.5 to -0.4)</Txt>
      <Txt x={303} y={815} size={25}>p &lt; 0.0001</Txt>
      <Txt x={12} y={1041} size={24.5} rotate={-90}><i>MET</i> copy number</Txt>
      <Txt x={326} y={1258} size={25}>Size of <i>MET</i> amplification (Mb)</Txt>
      {/* panel d */}
      <Letter ch="d" inkLeft={575} baseline={810.6} size={62} />
      <Txt x={632} y={767} size={12} underline>Median</Txt>
      {dMedians.map((m, i) => <Txt key={'dm' + i} x={i === 1 ? 607 : 632} y={783.3 + i * 48.8} size={13}>({m})</Txt>)}
      <Txt x={610} y={978} size={16.5} rotate={-90}>Tumor type</Txt>
      <Txt x={893} y={1256} size={25}><i>MET</i> copy number</Txt>
      {/* panel e */}
      <Letter ch="e" inkLeft={1121} baseline={806.5} size={66} />
      <Txt x={1172} y={767} size={12} underline>Median</Txt>
      {eMedianLabels.map((m, i) => <Txt key={'em' + i} x={i === 6 ? 1148 : 1173} y={782.9 + i * 48.47} size={13}>({m})</Txt>)}
      <Txt x={1149} y={978} size={16.5} rotate={-90}>Tumor type</Txt>
      <Txt x={1423} y={1249} size={25}><i>MET</i> amp size (Mb)</Txt>
      {/* panel f */}
      <Letter ch="f" inkLeft={9.4} baseline={1391.4} size={60} />
      {groupLines.map((lines, i) => <Block key={'fb' + i} x={fBlocks[i].x} y0={fBlocks[i].y0} lines={lines} size={25} lh={30.7} />)}
      {fMedians.map((m, i) => <Txt key={'fn' + i} x={fNotes[i].x} y={fNotes[i].y} size={25}>{note(m, fQ1[i], fQ3[i])}</Txt>)}
      <Txt x={470} y={2079} size={25}><i>MET</i> copy number</Txt>
      {/* panel g */}
      <Letter ch="g" inkLeft={822.7} baseline={1391} size={59} />
      {groupLines.map((lines, i) => <Block key={'gb' + i} x={gBlocks[i].x} y0={gBlocks[i].y0} lines={lines} size={25} lh={30.7} />)}
      {gMedians.map((m, i) => <Txt key={'gn' + i} x={gNotes[i].x} y={gNotes[i].y} size={25}>{note(m, gQ1[i], gQ3[i])}</Txt>)}
      <Txt x={1325} y={2086} size={25}><i>MET</i> amp size (Mb)</Txt>
    </div>
  );
}
